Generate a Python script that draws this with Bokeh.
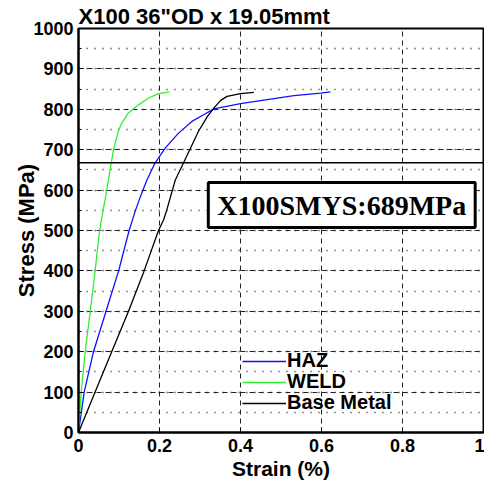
from bokeh.plotting import figure
from bokeh.models import (Span, Label, Legend, LegendItem, SingleIntervalTicker,
                          CustomJSTickFormatter, Range1d)
from bokeh.embed import file_html
from bokeh.resources import INLINE

# ---- data ----
haz_strain = [0, 0.014, 0.037, 0.068, 0.099, 0.125, 0.14, 0.155, 0.169, 0.189, 0.214,
              0.247, 0.280, 0.310, 0.334, 0.40, 0.466, 0.532, 0.598, 0.622]
haz_stress = [0, 100, 200, 300, 400, 500, 548, 590, 625, 667, 704,
              741, 770, 787, 801, 814, 824, 834, 840, 843]

weld_strain = [0, 0.0066, 0.0165, 0.029, 0.041, 0.052, 0.059, 0.066, 0.078, 0.0864,
               0.099, 0.107, 0.123, 0.148, 0.173, 0.1975, 0.224]
weld_stress = [0, 100, 200, 300, 400, 500, 540, 578, 650, 700,
               749, 766, 791, 811, 828, 839, 843]

base_strain = [0, 0.041, 0.082, 0.1235, 0.162, 0.1975, 0.21, 0.218, 0.239, 0.263,
               0.296, 0.318, 0.334, 0.351, 0.367, 0.40, 0.433]
base_stress = [0, 100, 200, 300, 400, 500, 526, 551, 625, 675,
               745, 782, 803, 822, 832, 839, 842]

smys_line = 668
title_text = 'X100 36"OD x 19.05mmt'
box_text = "X100SMYS:689MPa"
box_pos = (0.65, 563)
series_names = ["HAZ", "WELD", "Base Metal"]

SANS = "Liberation Sans"
SERIF = "Liberation Serif"

p = figure(width=484, height=484, output_backend="svg", toolbar_location=None,
           x_range=Range1d(0, 1), y_range=Range1d(0, 1000),
           min_border_left=78, min_border_right=1, min_border_top=28,
           min_border_bottom=52)
p.background_fill_color = "white"
p.border_fill_color = "white"
p.outline_line_color = "black"
p.outline_line_width = 2
p.outline_line_alpha = 1

# title
p.title.text = title_text
p.title.text_font = SANS
p.title.text_font_style = "bold"
p.title.text_font_size = "22px"
p.title.text_color = "black"
p.title.align = "left"
p.title.standoff = 0
p.title.offset = 0
p.title.text_line_height = 0.9

# axes
p.xaxis.ticker = SingleIntervalTicker(interval=0.2, num_minor_ticks=0)
p.yaxis.ticker = SingleIntervalTicker(interval=100, num_minor_ticks=2)
p.xaxis.formatter = CustomJSTickFormatter(code="return parseFloat(tick.toFixed(2)).toString();")
for ax in (p.xaxis[0], p.yaxis[0]):
    ax.axis_line_color = "black"
    ax.axis_line_width = 2
    ax.major_tick_in = 5
    ax.major_tick_out = 0
    ax.minor_tick_in = 3
    ax.minor_tick_out = 0
    ax.major_tick_line_color = "black"
    ax.minor_tick_line_color = "black"
    ax.major_label_text_font = SANS
    ax.major_label_text_font_style = "bold"
    ax.major_label_text_font_size = "18px"
    ax.major_label_text_color = "black"
    ax.axis_label_text_font = SANS
    ax.axis_label_text_font_style = "bold"
    ax.axis_label_text_color = "black"
p.xaxis.axis_label = "Strain (%)"
p.yaxis.axis_label = "Stress (MPa)"
p.xaxis.axis_label_text_font_size = "21px"
p.yaxis.axis_label_text_font_size = "22px"
p.xaxis.major_label_standoff = 6
p.yaxis.major_label_standoff = 5
p.xaxis.axis_label_standoff = 2
p.yaxis.axis_label_standoff = -9

# grid
p.xgrid.grid_line_color = "#222222"
p.xgrid.grid_line_dash = "5 4"
p.xgrid.grid_line_width = 1
p.ygrid.grid_line_color = "#222222"
p.ygrid.grid_line_dash = "5 4"
p.ygrid.grid_line_width = 1
p.ygrid.minor_grid_line_color = "#222222"
p.ygrid.minor_grid_line_dash = "1 7"
p.ygrid.minor_grid_line_width = 1.5

# curves
r_haz = p.line(haz_strain, haz_stress, line_color="#1010ff", line_width=1.3)
r_weld = p.line(weld_strain, weld_stress, line_color="#33ee33", line_width=1.3)
r_base = p.line(base_strain, base_stress, line_color="black", line_width=1.3)

p.add_layout(Span(location=smys_line, dimension="width", line_color="black", line_width=1.5))

# boxed annotation
p.add_layout(Label(x=box_pos[0], y=box_pos[1], text=box_text, text_font=SERIF,
                   text_font_style="bold", text_font_size="28px", text_color="black",
                   text_align="center", text_baseline="middle",
                   border_line_color="black", border_line_width=3,
                   background_fill_color="white", padding=(9, 7)))

# legend: one row per legend so the row pitch matches the reference
for r, name, ly in zip([r_haz, r_weld, r_base], series_names, [60, 39, 18]):
    lg = Legend(items=[LegendItem(label=name, renderers=[r])],
                location=(164, ly), border_line_alpha=0, background_fill_alpha=0,
                padding=0, margin=0, spacing=0, glyph_width=44, glyph_height=18,
                label_height=18, label_standoff=1,
                label_text_font=SANS, label_text_font_style="bold",
                label_text_font_size="20px", label_text_color="black")
    p.add_layout(lg, "center")

open("out.html", "w").write(file_html(p, INLINE))
